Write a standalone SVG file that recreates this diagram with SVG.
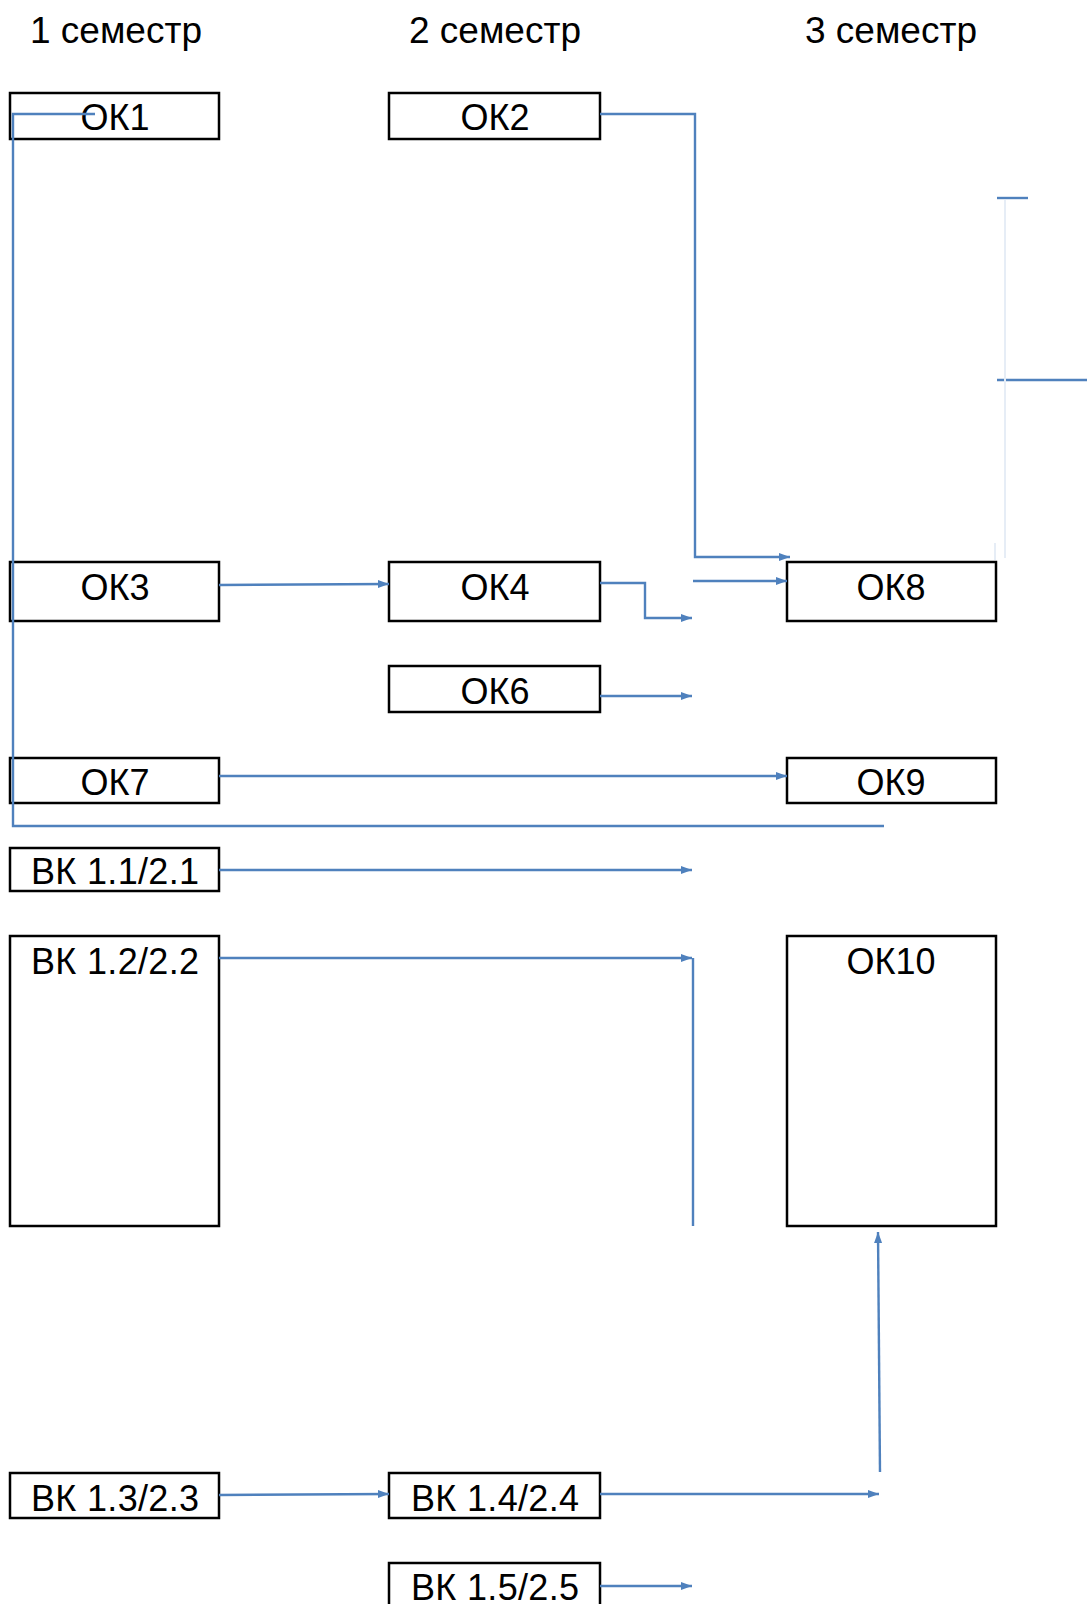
<svg xmlns="http://www.w3.org/2000/svg" width="1087" height="1604" viewBox="0 0 1087 1604">
<style>
.box{fill:#fff;stroke:#000;stroke-width:2.5}
.lbl{font-family:"Liberation Sans",Arial,sans-serif;font-size:36px;fill:#000;text-anchor:middle}
.hdr{font-family:"Liberation Sans",Arial,sans-serif;font-size:37px;fill:#000;text-anchor:middle}
.c{fill:none;stroke:#4F81BD;stroke-width:2.4}
.a{marker-end:url(#arr)}
.faint{fill:none;stroke:#E6EDF6;stroke-width:2}
</style>
<defs>
<marker id="arr" markerUnits="userSpaceOnUse" markerWidth="13" markerHeight="9" refX="11" refY="4" orient="auto">
<path d="M0,0 L11,4 L0,8 z" fill="#4F81BD"/>
</marker>
</defs>
<rect width="1087" height="1604" fill="#fff"/>
<g id="headers">
<text class="hdr" x="116" y="43">1 семестр</text>
<text class="hdr" x="495" y="43">2 семестр</text>
<text class="hdr" x="891" y="43">3 семестр</text>
</g>
<g id="n-ok1"><rect class="box" x="10" y="93" width="209" height="46"/><text class="lbl" x="115" y="130">ОК1</text></g>
<g id="n-ok2"><rect class="box" x="389" y="93" width="211" height="46"/><text class="lbl" x="495" y="130">ОК2</text></g>
<g id="n-ok3"><rect class="box" x="10" y="562" width="209" height="59"/><text class="lbl" x="115" y="600">ОК3</text></g>
<g id="n-ok4"><rect class="box" x="389" y="562" width="211" height="59"/><text class="lbl" x="495" y="600">ОК4</text></g>
<g id="n-ok8"><rect class="box" x="787" y="562" width="209" height="59"/><text class="lbl" x="891" y="600">ОК8</text></g>
<g id="n-ok6"><rect class="box" x="389" y="666" width="211" height="46"/><text class="lbl" x="495" y="704">ОК6</text></g>
<g id="n-ok7"><rect class="box" x="10" y="758" width="209" height="45"/><text class="lbl" x="115" y="795">ОК7</text></g>
<g id="n-ok9"><rect class="box" x="787" y="758" width="209" height="45"/><text class="lbl" x="891" y="795">ОК9</text></g>
<g id="n-vk11"><rect class="box" x="10" y="848" width="209" height="43"/><text class="lbl" x="115" y="884" textLength="168">ВК 1.1/2.1</text></g>
<g id="n-vk12"><rect class="box" x="10" y="936" width="209" height="290"/><text class="lbl" x="115" y="974" textLength="168">ВК 1.2/2.2</text></g>
<g id="n-ok10"><rect class="box" x="787" y="936" width="209" height="290"/><text class="lbl" x="891" y="974">ОК10</text></g>
<g id="n-vk13"><rect class="box" x="10" y="1473" width="209" height="45"/><text class="lbl" x="115" y="1511" textLength="168">ВК 1.3/2.3</text></g>
<g id="n-vk14"><rect class="box" x="389" y="1473" width="211" height="45"/><text class="lbl" x="495" y="1511" textLength="168">ВК 1.4/2.4</text></g>
<g id="n-vk15"><rect class="box" x="389" y="1563" width="211" height="50"/><text class="lbl" x="495" y="1600" textLength="168">ВК 1.5/2.5</text></g>
<g id="connectors">
<polyline class="c" points="95,114 13,114 13,826 884,826"/>
<polyline class="c a" points="600,114 695,114 695,557 790,557"/>
<line class="c a" x1="693" y1="581" x2="787" y2="581"/>
<line class="c a" x1="219" y1="585" x2="389" y2="584"/>
<polyline class="c a" points="600,583 645,583 645,618 692,618"/>
<line class="c a" x1="600" y1="696" x2="692" y2="696"/>
<line class="c a" x1="219" y1="776" x2="787" y2="776"/>
<line class="c a" x1="219" y1="870" x2="692" y2="870"/>
<line class="c a" x1="219" y1="958" x2="692" y2="958"/>
<line class="c" x1="693" y1="958" x2="693" y2="1226"/>
<line class="c a" x1="219" y1="1495" x2="389" y2="1494"/>
<line class="c a" x1="600" y1="1494" x2="879" y2="1494"/>
<line class="c a" x1="880" y1="1472" x2="878" y2="1232"/>
<line class="c a" x1="600" y1="1586" x2="692" y2="1586"/>
<line class="c" x1="997" y1="198" x2="1028" y2="198"/>
<line class="c" x1="997" y1="380" x2="1087" y2="380"/>
<line class="faint" x1="1005" y1="200" x2="1005" y2="558"/>
<line class="faint" x1="995" y1="543" x2="995" y2="560"/>
</g>
</svg>
